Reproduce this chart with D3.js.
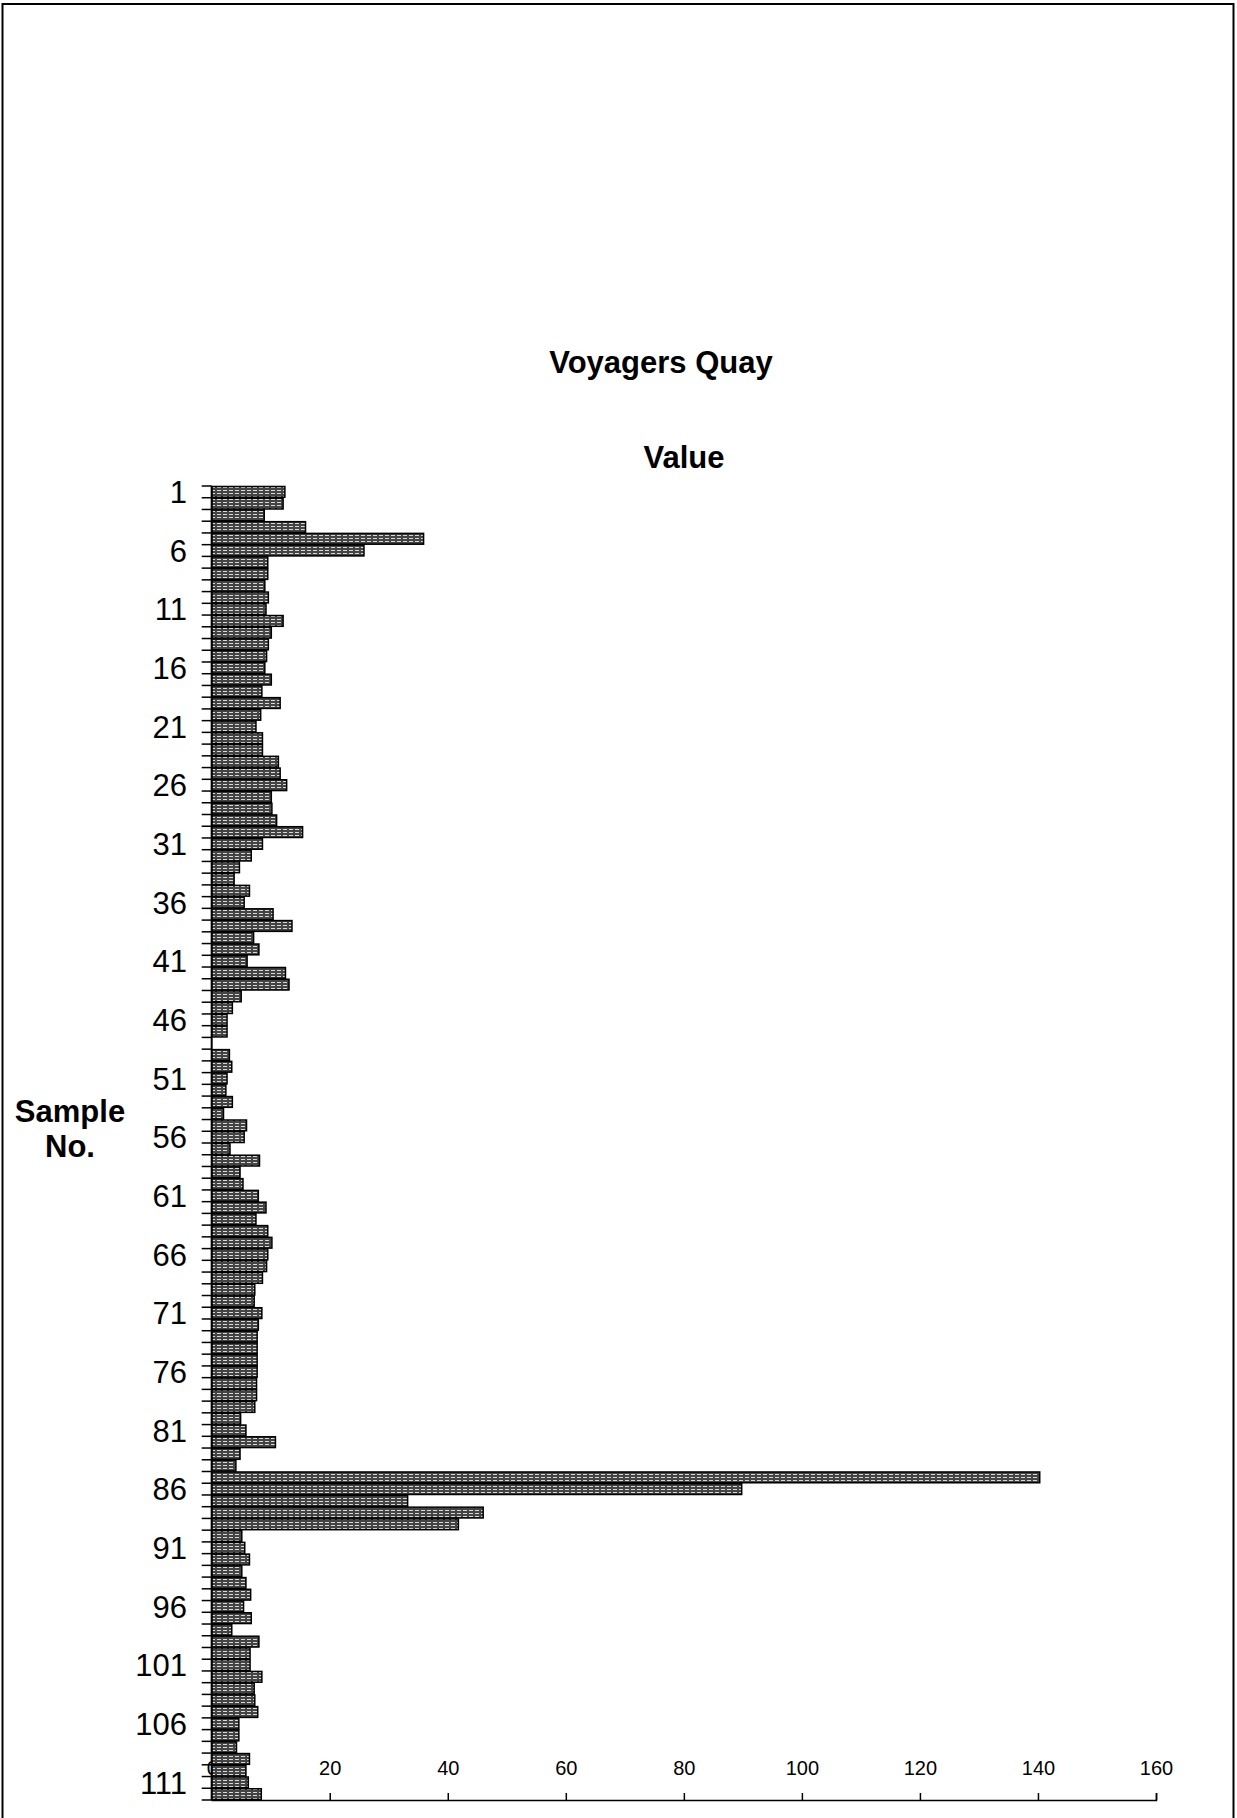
<!DOCTYPE html>
<meta charset="utf-8">
<style>
body { margin: 0; background: #fff; }
text { font-family: Arial, "Liberation Sans", sans-serif; fill: #000; }
.title { font-size: 31px; font-weight: bold; }
.ylab text { font-size: 31px; }
.xaxis text { font-size: 20px; }
</style>
<body>
<script src="https://cdn.jsdelivr.net/npm/d3@7"></script>
<script>

// Sample numbers 1..112 and the value
var samples = d3.range(1, 113);
var values = [
  12.4, 12.1, 8.9, 15.9, 35.9, 25.8, 9.5, 9.5, 9.0, 9.6,
  9.2, 12.1, 10.1, 9.6, 9.3, 9.0, 10.1, 8.5, 11.6, 8.3,
  7.5, 8.6, 8.6, 11.3, 11.6, 12.7, 10.1, 10.2, 11.0, 15.4,
  8.6, 6.7, 4.7, 3.8, 6.4, 5.5, 10.4, 13.6, 7.1, 8.0,
  6.0, 12.5, 13.1, 5.0, 3.5, 2.6, 2.6, 0, 3.0, 3.4,
  2.6, 2.4, 3.5, 2.0, 5.9, 5.5, 3.1, 8.1, 4.8, 5.3,
  7.9, 9.2, 7.5, 9.5, 10.2, 9.5, 9.3, 8.6, 7.3, 7.2,
  8.5, 7.9, 7.7, 7.7, 7.7, 7.7, 7.6, 7.6, 7.3, 4.9,
  5.8, 10.8, 4.8, 4.1, 140.3, 89.8, 33.2, 46.0, 41.8, 5.1,
  5.6, 6.4, 5.1, 5.8, 6.6, 5.4, 6.7, 3.4, 8.0, 6.5,
  6.5, 8.5, 7.2, 7.3, 7.8, 4.6, 4.6, 4.2, 6.4, 5.8,
  6.2, 8.4
];
var labelledSamples = samples.filter(function(s) { return (s - 1) % 5 === 0; });
var xTicks = [0, 20, 40, 60, 80, 100, 120, 140, 160];

var data = samples.map(function(s, i) { return {sample: s, value: values[i]}; });

var W = 1237, H = 1818;
var x0 = 211.7, x1 = 1156, yTop = 486, yBot = 1800;

var svg = d3.select("body").append("svg")
    .attr("width", W)
    .attr("height", H);

// scanned-look bar fill
var pat = svg.append("defs").append("pattern")
    .attr("id", "speckle")
    .attr("patternUnits", "userSpaceOnUse")
    .attr("width", 6).attr("height", 3);
pat.append("rect").attr("width", 6).attr("height", 3).attr("fill", "#444");
pat.append("rect").attr("x", 1).attr("y", 1).attr("width", 4).attr("height", 1).attr("fill", "#d8d8d8");

// outer frame
svg.append("rect")
    .attr("x", 2.5).attr("y", 4)
    .attr("width", 1231).attr("height", 1830)
    .attr("fill", "none")
    .attr("stroke", "#000")
    .attr("stroke-width", 2);

var x = d3.scaleLinear().domain([0, 160]).range([x0, x1]);
var y = d3.scaleBand().domain(samples).range([yTop, yBot]).paddingInner(0.08).paddingOuter(0.04);

// titles
svg.append("text").attr("class", "title")
    .attr("x", 661).attr("y", 373)
    .attr("text-anchor", "middle")
    .text("Voyagers Quay");

svg.append("text").attr("class", "title")
    .attr("x", 684).attr("y", 468)
    .attr("text-anchor", "middle")
    .text("Value");

var yt = svg.append("text").attr("class", "title")
    .attr("x", 70).attr("text-anchor", "middle");
yt.append("tspan").attr("x", 70).attr("y", 1122).text("Sample");
yt.append("tspan").attr("x", 70).attr("y", 1157).text("No.");

// x axis along the bottom, labels above the line
var xAxis = svg.append("g")
    .attr("class", "xaxis")
    .attr("transform", "translate(0," + yBot + ")")
    .call(d3.axisTop(x).tickValues(xTicks).tickSize(7).tickPadding(18).tickSizeOuter(7));
xAxis.select(".domain").attr("stroke", "#000").attr("stroke-width", 1.5);
xAxis.selectAll(".tick line").attr("stroke", "#000").attr("stroke-width", 1.5);

// bars
svg.append("g").selectAll("rect")
    .data(data)
    .enter().append("rect")
    .attr("x", x(0))
    .attr("y", function(d) { return y(d.sample); })
    .attr("height", y.bandwidth())
    .attr("width", function(d) { return Math.max(0, x(d.value) - x(0)); })
    .attr("fill", "url(#speckle)")
    .attr("stroke", "#000")
    .attr("stroke-width", function(d) { return d.value > 0 ? 1.5 : 0; });

// y axis: line, ticks at category boundaries, labels every 5th sample
var step = y.step();
var boundaries = samples.map(function(s) { return y(s) - y.paddingInner() * step / 2; });
boundaries.push(yBot);

svg.append("line")
    .attr("x1", x0).attr("x2", x0)
    .attr("y1", yTop).attr("y2", yBot)
    .attr("stroke", "#000").attr("stroke-width", 2);

svg.append("g").selectAll("line")
    .data(boundaries)
    .enter().append("line")
    .attr("x1", x0 - 10).attr("x2", x0)
    .attr("y1", function(d) { return d; })
    .attr("y2", function(d) { return d; })
    .attr("stroke", "#000").attr("stroke-width", 1.5);

svg.append("g").attr("class", "ylab").selectAll("text")
    .data(labelledSamples)
    .enter().append("text")
    .attr("x", 187)
    .attr("y", function(d) { return y(d) + y.bandwidth() / 2; })
    .attr("dy", "0.36em")
    .attr("text-anchor", "end")
    .text(function(d) { return d; });

</script>
</body>
